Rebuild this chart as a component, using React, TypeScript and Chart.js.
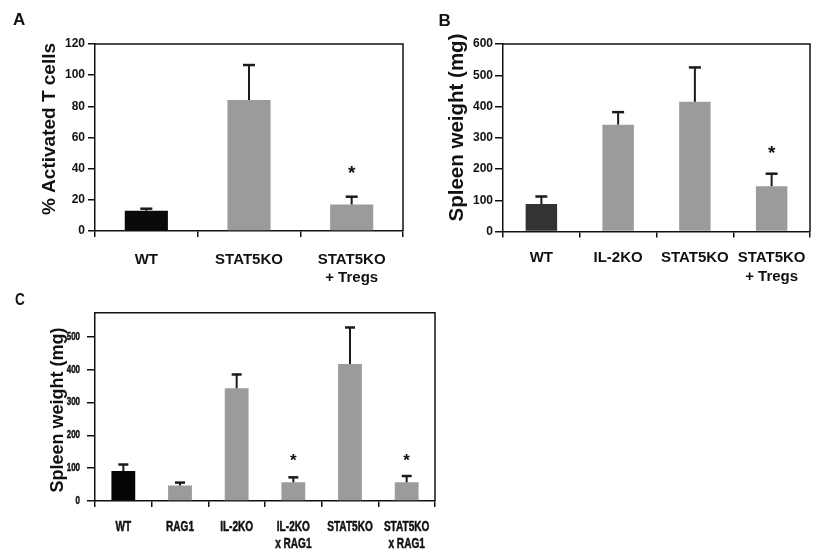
import React, { useEffect, useRef } from "react";
import { Chart, registerables } from "chart.js";

Chart.register(...registerables);

const FONT = '"Liberation Sans", Arial, Helvetica, sans-serif';
const INK = "#111111";
const GREY = "#9b9b9b";

// Panel A
const categoriesA: (string | string[])[] = ["WT", "STAT5KO", ["STAT5KO", "+ Tregs"]];
const valuesA = [13, 84, 17];
const errorsA = [1.3, 22.5, 5];
const starsA: (number | null)[] = [null, null, 40];
const colorsA = ["#0a0a0a", GREY, GREY];

// Panel B
const categoriesB: (string | string[])[] = ["WT", "IL-2KO", "STAT5KO", ["STAT5KO", "+ Tregs"]];
const valuesB = [88, 342, 415, 145];
const errorsB = [24, 40, 110, 40];
const starsB: (number | null)[] = [null, null, null, 268];
const colorsB = ["#333333", GREY, GREY, GREY];

// Panel C
const categoriesC: (string | string[])[] = ["WT", "RAG1", "IL-2KO", ["IL-2KO", "x RAG1"], "STAT5KO", ["STAT5KO", "x RAG1"]];
const valuesC = [91, 47, 343, 57, 417, 57];
const errorsC = [20, 9, 42, 15, 111, 19];
const starsC: (number | null)[] = [null, null, null, 135, null, 135];
const colorsC = ["#050505", GREY, GREY, GREY, GREY, GREY];

type PanelCfg = {
  left: number; top: number; w: number; h: number;
  pad: { left: number; top: number; right: number; bottom: number };
  yWidth: number; xHeight: number;
  labels: (string | string[])[]; values: number[]; errors: number[]; stars: (number | null)[]; colors: string[];
  yMax: number; yStep: number;
  yTitle: string; yTitleSize: number; yTitleX: number; yTitleY: number;
  yTickSize: number; yTickLen: number; yTickPad: number;
  xTickSize: number; xTickPad: number; xLineHeight: number;
  barPct: number; cap: number; starSize: number;
  squeeze: number | null;
};

function decorPlugin(cfg: PanelCfg) {
  return {
    id: "decor",
    afterDatasetsDraw(chart: any) {
      const { ctx, chartArea } = chart;
      const y = chart.scales.y;
      const meta = chart.getDatasetMeta(0);
      ctx.save();
      meta.data.forEach((bar: any, i: number) => {
        const ey = y.getPixelForValue(cfg.values[i] + cfg.errors[i]);
        ctx.strokeStyle = "#1a1a1a";
        ctx.lineWidth = 2;
        ctx.beginPath();
        ctx.moveTo(bar.x, bar.y);
        ctx.lineTo(bar.x, ey);
        ctx.stroke();
        ctx.lineWidth = 2.5;
        ctx.beginPath();
        ctx.moveTo(bar.x - cfg.cap, ey);
        ctx.lineTo(bar.x + cfg.cap, ey);
        ctx.stroke();
        const s = cfg.stars[i];
        if (s !== null && s !== undefined) {
          const sy = y.getPixelForValue(s);
          ctx.fillStyle = INK;
          ctx.font = `bold ${cfg.starSize}px ${FONT}`;
          ctx.textAlign = "center";
          ctx.textBaseline = "alphabetic";
          ctx.fillText("*", bar.x, sy + 0.57 * cfg.starSize);
        }
      });
      ctx.strokeStyle = INK;
      ctx.lineWidth = 1.5;
      ctx.beginPath();
      ctx.moveTo(chartArea.left, chartArea.top);
      ctx.lineTo(chartArea.right, chartArea.top);
      ctx.lineTo(chartArea.right, chartArea.bottom);
      ctx.stroke();
      ctx.restore();
    },
    afterDraw(chart: any) {
      const { ctx } = chart;
      ctx.save();
      ctx.fillStyle = INK;
      // y-axis title
      ctx.save();
      ctx.translate(cfg.yTitleX, cfg.yTitleY);
      ctx.rotate(-Math.PI / 2);
      ctx.textAlign = "center";
      ctx.textBaseline = "middle";
      ctx.font = `bold ${cfg.yTitleSize}px ${FONT}`;
      ctx.fillText(cfg.yTitle, 0, 0);
      ctx.restore();

      if (cfg.squeeze) {
        const k = cfg.squeeze;
        const x = chart.scales.x;
        const y = chart.scales.y;
        ctx.strokeStyle = INK;
        ctx.lineWidth = 0.5;
        ctx.textBaseline = "middle";
        ctx.textAlign = "center";
        ctx.font = `bold ${cfg.xTickSize}px ${FONT}`;
        const lh = cfg.xTickSize * cfg.xLineHeight;
        cfg.labels.forEach((lab, i) => {
          const px = x.getPixelForTick(i);
          const lines = Array.isArray(lab) ? lab : [lab];
          lines.forEach((ln, j) => {
            const py = x.top + 6 + cfg.xTickPad + lh / 2 + j * lh;
            ctx.save();
            ctx.translate(px, py);
            ctx.scale(k, 1);
            ctx.fillText(ln, 0, 0);
            ctx.strokeText(ln, 0, 0);
            ctx.restore();
          });
        });
        ctx.textAlign = "right";
        ctx.font = `bold ${cfg.yTickSize}px ${FONT}`;
        y.ticks.forEach((t: any) => {
          const py = y.getPixelForValue(t.value);
          const px = y.right - cfg.yTickLen - cfg.yTickPad;
          ctx.save();
          ctx.translate(px, py);
          ctx.scale(k, 1);
          ctx.fillText(String(t.value), 0, 0);
          ctx.strokeText(String(t.value), 0, 0);
          ctx.restore();
        });
      }
      ctx.restore();
    },
  };
}

function buildConfig(cfg: PanelCfg): any {
  const tickColor = cfg.squeeze ? "rgba(0,0,0,0)" : INK;
  return {
    type: "bar",
    data: {
      labels: cfg.labels,
      datasets: [
        {
          data: cfg.values,
          backgroundColor: cfg.colors,
          borderWidth: 0,
          barPercentage: cfg.barPct,
          categoryPercentage: 1,
        },
      ],
    },
    options: {
      responsive: false,
      animation: false,
      devicePixelRatio: 1,
      layout: { padding: cfg.pad },
      plugins: { legend: { display: false }, tooltip: { enabled: false } },
      scales: {
        x: {
          ticks: {
            color: tickColor,
            font: { family: FONT, size: cfg.xTickSize, weight: "bold", lineHeight: cfg.xLineHeight },
            padding: cfg.xTickPad,
            maxRotation: 0,
            minRotation: 0,
            autoSkip: false,
          },
          grid: { drawOnChartArea: false, offset: true, tickLength: 6, color: INK, lineWidth: 1.5 },
          border: { display: true, color: INK, width: 1.5 },
          afterFit: (s: any) => { s.height = cfg.xHeight; },
        },
        y: {
          min: 0,
          max: cfg.yMax,
          ticks: {
            stepSize: cfg.yStep,
            color: tickColor,
            font: { family: FONT, size: cfg.yTickSize, weight: "bold" },
            padding: cfg.yTickPad,
          },
          afterBuildTicks: (s: any) => {
            s.ticks = s.ticks.filter((t: any) => Math.abs(t.value / cfg.yStep - Math.round(t.value / cfg.yStep)) < 1e-6);
          },
          grid: { drawOnChartArea: false, tickLength: cfg.yTickLen, color: INK, lineWidth: 1.5 },
          border: { display: true, color: INK, width: 1.5 },
          title: { display: false },
          afterFit: (s: any) => { s.width = cfg.yWidth; },
        },
      },
    },
    plugins: [decorPlugin(cfg)],
  };
}

const panelA: PanelCfg = {
  left: 0, top: 0, w: 412, h: 290,
  pad: { left: 40, top: 44, right: 9, bottom: 0 },
  yWidth: 55, xHeight: 59,
  labels: categoriesA, values: valuesA, errors: errorsA, stars: starsA, colors: colorsA,
  yMax: 120, yStep: 20,
  yTitle: "% Activated T cells", yTitleSize: 19, yTitleX: 49.5, yTitleY: 129,
  yTickSize: 12, yTickLen: 7, yTickPad: 3,
  xTickSize: 15, xTickPad: 13, xLineHeight: 1.25,
  barPct: 0.42, cap: 6, starSize: 19, squeeze: null,
};

const panelB: PanelCfg = {
  left: 412, top: 0, w: 412, h: 290,
  pad: { left: 28.5, top: 44, right: 14, bottom: 0 },
  yWidth: 62.5, xHeight: 58.5,
  labels: categoriesB, values: valuesB, errors: errorsB, stars: starsB, colors: colorsB,
  yMax: 600, yStep: 100,
  yTitle: "Spleen weight (mg)", yTitleSize: 20.5, yTitleX: 45.5, yTitleY: 127.5,
  yTickSize: 12, yTickLen: 8, yTickPad: 2,
  xTickSize: 15, xTickPad: 11.4, xLineHeight: 1.25,
  barPct: 0.41, cap: 6, starSize: 19, squeeze: null,
};

const panelC: PanelCfg = {
  left: 0, top: 290, w: 824, h: 260,
  pad: { left: 40, top: 22.7, right: 389, bottom: 0 },
  yWidth: 55, xHeight: 49,
  labels: categoriesC, values: valuesC, errors: errorsC, stars: starsC, colors: colorsC,
  yMax: 573, yStep: 100,
  yTitle: "Spleen weight (mg)", yTitleSize: 18, yTitleX: 58, yTitleY: 120,
  yTickSize: 11, yTickLen: 8, yTickPad: 7,
  xTickSize: 14, xTickPad: 10.9, xLineHeight: 1.26,
  barPct: 0.42, cap: 5, starSize: 17, squeeze: 0.72,
};

function Panel({ cfg }: { cfg: PanelCfg }) {
  const ref = useRef<HTMLCanvasElement>(null);
  useEffect(() => {
    if (!ref.current) return;
    const chart = new Chart(ref.current, buildConfig(cfg));
    return () => chart.destroy();
  }, [cfg]);
  return (
    <canvas
      ref={ref}
      width={cfg.w}
      height={cfg.h}
      style={{ position: "absolute", left: cfg.left, top: cfg.top, width: cfg.w, height: cfg.h }}
    />
  );
}

const labelStyle: React.CSSProperties = {
  position: "absolute",
  fontFamily: FONT,
  fontWeight: "bold",
  fontSize: 17,
  lineHeight: "17px",
  color: INK,
};

export default function App() {
  return (
    <div style={{ position: "fixed", left: 0, top: 0, width: 824, height: 550, background: "#ffffff", overflow: "hidden" }}>
      <Panel cfg={panelA} />
      <Panel cfg={panelB} />
      <Panel cfg={panelC} />
      <div style={{ ...labelStyle, left: 13, top: 10.7 }}>A</div>
      <div style={{ ...labelStyle, left: 438.5, top: 11.7 }}>B</div>
      <div style={{ ...labelStyle, left: 15, top: 290.7, transform: "scaleX(0.8)", transformOrigin: "left top" }}>C</div>
    </div>
  );
}
